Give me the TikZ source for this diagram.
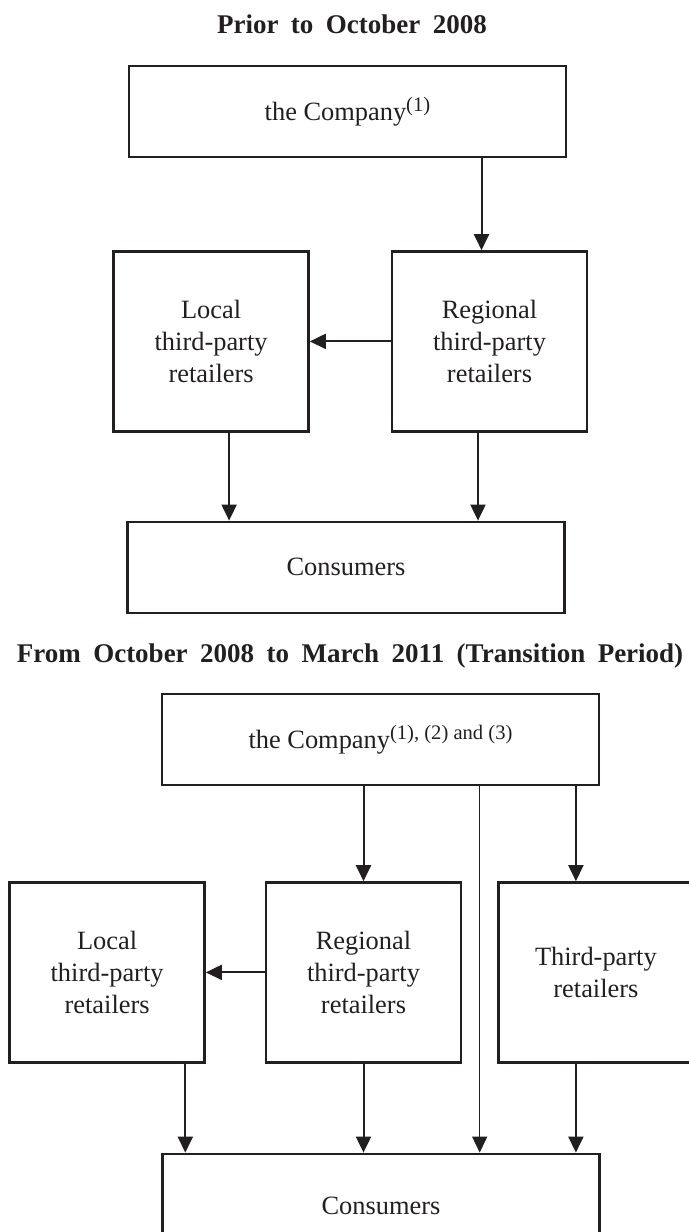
\documentclass[tikz,border=0pt]{standalone}
\usepackage{fontspec}
\setmainfont{Liberation Serif}
\usetikzlibrary{positioning, arrows.meta, calc}
\definecolor{ink}{RGB}{35,31,32}
\newcommand{\notemark}[1]{\raisebox{4.5pt}{\fontsize{10.3}{12}\selectfont #1}}

\begin{document}
\begin{tikzpicture}[color=ink]
	% Define styles
	\tikzset{
		heading/.style={font=\bfseries\fontsize{13.5}{16}\selectfont, execute at begin node={\spaceskip=6.25pt\relax}, anchor=base, inner sep=0pt},
		wide/.style={rectangle, draw, line width=1.2pt, minimum width=218.5pt, minimum height=45.5pt, inner sep=0pt, font=\fontsize{13.2}{16}\selectfont},
		retailer/.style={rectangle, draw, line width=1.2pt, minimum width=97.5pt, minimum height=90pt, inner sep=0pt, align=center, font=\fontsize{13.2}{16}\selectfont},
		line/.style={draw, line width=1pt, -{Triangle[length=8pt,width=7.5pt]}}
	}
	\useasboundingbox (0,0) rectangle (344.5pt,-616pt);
	
	% Prior to October 2008
	\node[heading] (title1) at (176pt,-16.5pt) {Prior to October 2008};
	\node[wide] (comp1) at (173.75pt,-55.75pt) {the Company\notemark{(1)}};
	\node[retailer, below=46pt of comp1, xshift=71pt] (reg1) {Regional\\third-party\\retailers};
	\node[retailer, left=40.5pt of reg1] (local1) {Local\\third-party\\retailers};
	\node[wide, below=44pt of reg1, xshift=-71.75pt] (cons1) {Consumers};
	
	\draw[line] ([xshift=-4pt]reg1.north |- comp1.south) -- ([xshift=-4pt]reg1.north);
	\draw[line] (reg1.west) -- (reg1.west -| local1.east);
	\draw[line] ([xshift=9pt]local1.south) -- ([xshift=9pt]local1.south |- cons1.north);
	\draw[line] ([xshift=-5.75pt]reg1.south) -- ([xshift=-5.75pt]reg1.south |- cons1.north);
	
	% Transition period
	\node[heading] (title2) at (175pt,-331pt) {From October 2008 to March 2011 (Transition Period)};
	\node[wide] (comp2) at (190.25pt,-369.75pt) {the Company\notemark{(1), (2) and (3)}};
	\node[retailer, below=47.5pt of comp2, xshift=-8.5pt] (reg2) {Regional\\third-party\\retailers};
	\node[retailer, left=29.5pt of reg2] (local2) {Local\\third-party\\retailers};
	\node[retailer, right=17.5pt of reg2] (third) {Third-party\\retailers};
	\node[wide, minimum height=52pt, below=44.5pt of reg2, xshift=8.75pt] (cons2) {Consumers};
	\coordinate (gap) at ($(reg2.east)!.5!(third.west)$);
	
	\draw[line] (reg2.north |- comp2.south) -- (reg2.north);
	\draw[line] ([xshift=-10pt]third.north |- comp2.south) -- ([xshift=-10pt]third.north);
	\draw[line, line width=0.75pt] (gap |- comp2.south) -- (gap |- cons2.north);
	\draw[line] (reg2.west) -- (reg2.west -| local2.east);
	\draw[line] ([xshift=12pt]cons2.north west |- local2.south) -- ([xshift=12pt]cons2.north west);
	\draw[line] (reg2.south) -- (reg2.south |- cons2.north);
	\draw[line] ([xshift=-10pt]third.south) -- ([xshift=-10pt]third.south |- cons2.north);
	
\end{tikzpicture}
\end{document}
